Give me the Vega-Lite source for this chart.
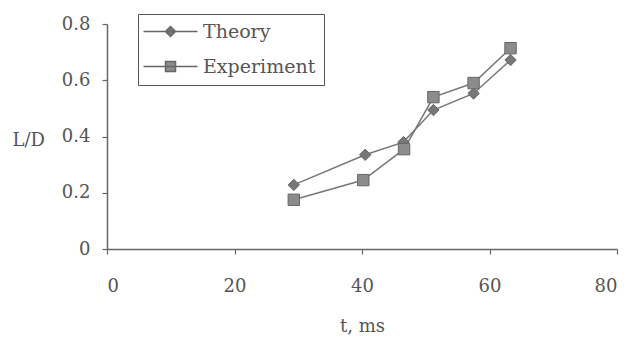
{
  "$schema": "https://vega.github.io/schema/vega-lite/v6.json",
  "width": 510,
  "height": 225,
  "autosize": {"type": "none"},
  "padding": {"left": 107, "top": 24, "right": 18, "bottom": 98},
  "background": "white",
  "config": {
    "view": {"stroke": null},
    "font": "DejaVu Serif",
    "axis": {
      "grid": false,
      "domainColor": "#666",
      "domainWidth": 1.5,
      "tickColor": "#666",
      "tickWidth": 1.2,
      "tickSize": 5,
      "labelColor": "#555",
      "labelFont": "DejaVu Serif",
      "labelFontSize": 18,
      "titleColor": "#555",
      "titleFont": "DejaVu Serif",
      "titleFontSize": 18,
      "titleFontWeight": "normal"
    }
  },
  "data": {
    "values": [
      {"series": "Theory", "t": 29.3, "LD": 0.228},
      {"series": "Theory", "t": 40.5, "LD": 0.335},
      {"series": "Theory", "t": 46.5, "LD": 0.38},
      {"series": "Theory", "t": 51.2, "LD": 0.494},
      {"series": "Theory", "t": 57.5, "LD": 0.553},
      {"series": "Theory", "t": 63.3, "LD": 0.672},
      {"series": "Experiment", "t": 29.3, "LD": 0.175},
      {"series": "Experiment", "t": 40.2, "LD": 0.245},
      {"series": "Experiment", "t": 46.6, "LD": 0.355},
      {"series": "Experiment", "t": 51.2, "LD": 0.54},
      {"series": "Experiment", "t": 57.5, "LD": 0.59},
      {"series": "Experiment", "t": 63.3, "LD": 0.714}
    ]
  },
  "encoding": {
    "x": {
      "field": "t", "type": "quantitative",
      "scale": {"domain": [0, 80], "nice": false},
      "axis": {"values": [0, 20, 40, 60, 80], "title": "t, ms", "labelPadding": 23, "titlePadding": 22}
    },
    "y": {
      "field": "LD", "type": "quantitative",
      "scale": {"domain": [0, 0.8], "nice": false},
      "axis": {
        "values": [0, 0.2, 0.4, 0.6, 0.8],
        "labelExpr": "datum.value === 0 ? '0' : format(datum.value, '.1f')",
        "labelPadding": 12,
        "title": "L/D",
        "titleAngle": 0,
        "titleAlign": "left",
        "titleBaseline": "middle",
        "titleX": -95,
        "titleY": 116
      }
    }
  },
  "layer": [
    {
      "mark": {"type": "line", "color": "#777", "strokeWidth": 1.5},
      "encoding": {"detail": {"field": "series"}}
    },
    {
      "mark": {"type": "point", "filled": true, "size": 130, "opacity": 1, "strokeWidth": 1},
      "encoding": {
        "shape": {
          "field": "series", "type": "nominal",
          "scale": {"domain": ["Experiment", "Theory"], "range": ["square", "diamond"]},
          "legend": null
        },
        "color": {
          "field": "series", "type": "nominal",
          "scale": {"domain": ["Theory", "Experiment"], "range": ["#777777", "#8c8c8c"]},
          "legend": {
            "title": null,
            "orient": "none",
            "legendX": 31,
            "legendY": -10,
            "direction": "vertical",
            "padding": 8,
            "strokeColor": "#555",
            "fillColor": "white",
            "symbolSize": 100,
            "symbolType": {"expr": "datum.value === 'Theory' ? 'M-2.4,0H8.4M2,0L3,-1L4,0L3,1Z' : 'M-2.4,0H8.4M2,-1H4V1H2Z'"},
            "symbolStrokeColor": "#666",
            "symbolStrokeWidth": 1.5,
            "labelOffset": 38,
            "labelFontSize": 19,
            "labelColor": "#555",
            "labelFont": "DejaVu Serif",
            "rowPadding": 15,
            "encode": {
              "symbols": {
                "stroke": {"value": "#666"},
                "strokeWidth": {"value": 1.5}
              }
            }
          }
        },
        "stroke": {"value": "#666"}
      }
    }
  ]
}
